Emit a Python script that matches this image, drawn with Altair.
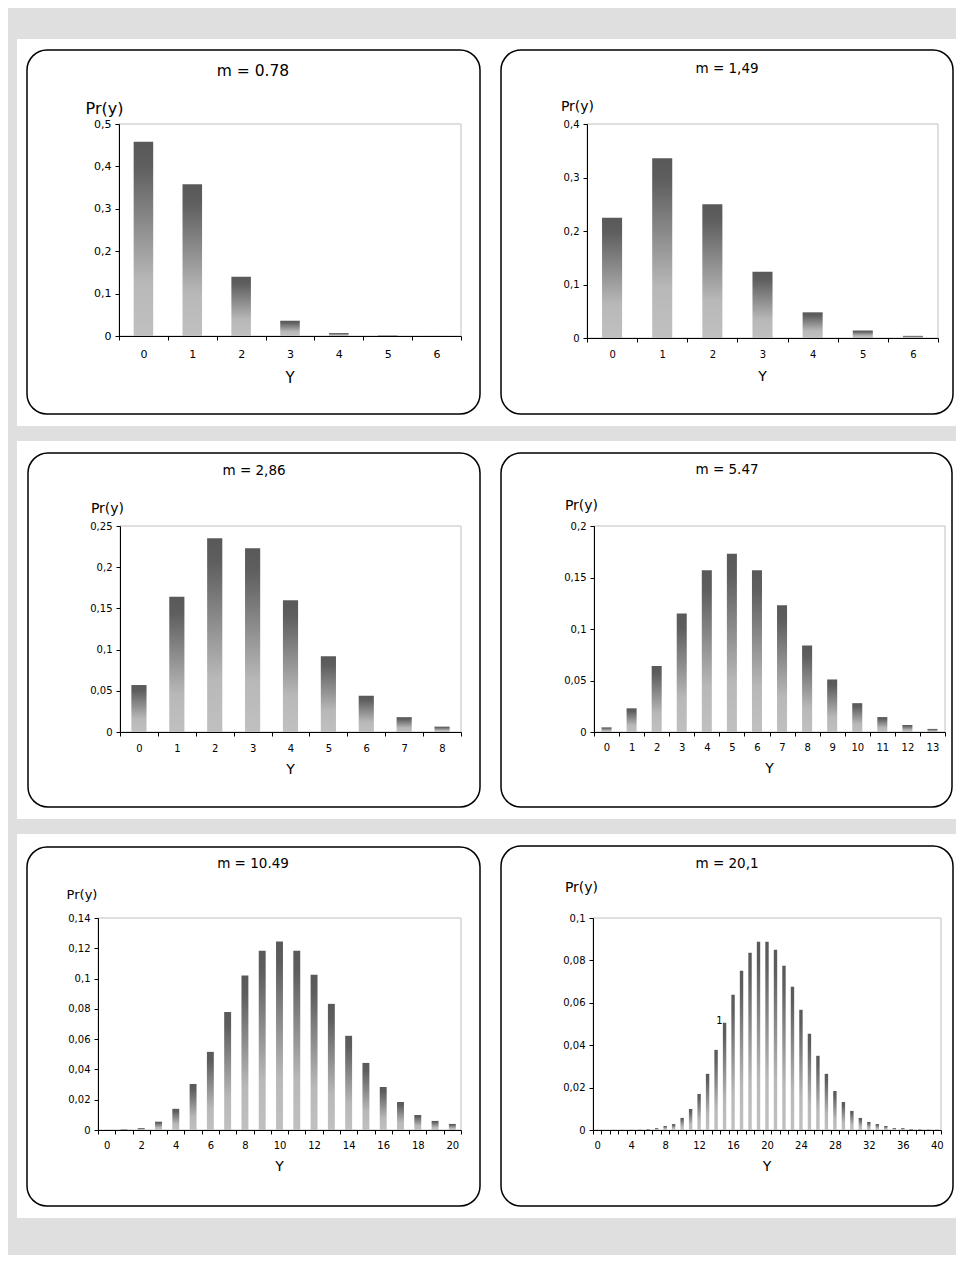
import altair as alt
import pandas as pd

FONT = "DejaVu Sans"

# ---------------- data ----------------
titles = ["m = 0.78", "m = 1,49", "m = 2,86", "m = 5.47", "m = 10.49", "m = 20,1"]

p1 = [0.458, 0.358, 0.14, 0.036, 0.007, 0.001, 0.0001]
p2 = [0.225, 0.336, 0.25, 0.124, 0.048, 0.014, 0.004]
p3 = [0.057, 0.164, 0.235, 0.223, 0.16, 0.092, 0.044, 0.018, 0.0065]
p4 = [0.0045, 0.023, 0.064, 0.115, 0.157, 0.173, 0.157, 0.123, 0.084, 0.051,
      0.028, 0.0145, 0.0068, 0.003]
p5 = [0.00003, 0.0003, 0.0013, 0.0055, 0.014, 0.0304, 0.0516, 0.078, 0.102,
      0.1184, 0.1244, 0.1184, 0.1025, 0.0833, 0.0622, 0.0443, 0.0284, 0.0185,
      0.0099, 0.006, 0.004]
p6 = [0.00001, 0.00001, 0.00001, 0.00002, 0.00005, 0.0001, 0.0003, 0.0009,
      0.0019, 0.0028, 0.0057, 0.0099, 0.017, 0.0265, 0.0378, 0.0506, 0.0638,
      0.0751, 0.0836, 0.0888, 0.0888, 0.085, 0.0775, 0.0676, 0.0567, 0.0454,
      0.035, 0.0265, 0.0184, 0.0132, 0.009, 0.0057, 0.0038, 0.0028, 0.0019,
      0.0009, 0.0009, 0.0003, 0.0002, 0.0001, 0.00005]
probs = [p1, p2, p3, p4, p5, p6]

ymax = [0.5, 0.4, 0.25, 0.2, 0.14, 0.1]
yticks = [
    [0, 0.1, 0.2, 0.3, 0.4, 0.5],
    [0, 0.1, 0.2, 0.3, 0.4],
    [0, 0.05, 0.1, 0.15, 0.2, 0.25],
    [0, 0.05, 0.1, 0.15, 0.2],
    [0, 0.02, 0.04, 0.06, 0.08, 0.1, 0.12, 0.14],
    [0, 0.02, 0.04, 0.06, 0.08, 0.1],
]
xlabel_step = [1, 1, 1, 1, 2, 4]
stray_label = {"y": [15], "p": [0.0512], "t": ["1"]}  # stray data label in last panel

# ---------------- layout (pixels, relative to each plot area) ----------------
layout = [
    dict(w=342, h=212, cell=(-102, 371, -85, 302), box=(-92, 361, -74, 290),
         title=(134, -53, 15.5), pr=(-14.5, -15, 16), yt=(42, 15), xpad=8, ls=11),
    dict(w=351, h=214, cell=(-97, 369, -85, 302), box=(-86, 366, -74, 290),
         title=(140, -55, 13.5), pr=(-9.5, -17, 14), yt=(39, 14), xpad=7, ls=10),
    dict(w=341, h=206, cell=(-103, 370, -85, 293), box=(-92, 360, -73, 281),
         title=(134, -55, 13.5), pr=(-12.5, -17, 14), yt=(38, 14), xpad=7, ls=10),
    dict(w=351, h=206, cell=(-104, 362, -85, 293), box=(-93, 358, -73, 281),
         title=(133, -56, 13.5), pr=(-12.5, -20, 14), yt=(37, 14), xpad=6, ls=10),
    dict(w=363, h=212, cell=(-81, 392, -84, 300), box=(-71, 382, -71, 288),
         title=(155, -54, 13.5), pr=(-16, -23, 13), yt=(37, 14), xpad=6, ls=10),
    dict(w=348, h=212, cell=(-103, 363, -84, 300), box=(-92, 360, -72, 288),
         title=(134, -54, 13.5), pr=(-11.5, -30, 14), yt=(37, 14), xpad=6, ls=10),
]

gradient = alt.LinearGradient(
    gradient="linear",
    stops=[
        alt.GradientStop(color="#595959", offset=0),
        alt.GradientStop(color="#5e5e5e", offset=0.12),
        alt.GradientStop(color="#b8b8b8", offset=0.72),
        alt.GradientStop(color="#c0c0c0", offset=1),
    ],
    x1=0, x2=0, y1=0, y2=1,
)

one = pd.DataFrame({"k": [0]})


def text_layer(txt, x, y, size):
    return alt.Chart(pd.DataFrame({"t": [txt]})).mark_text(
        font=FONT, fontSize=size, color="#000", align="center", baseline="middle"
    ).encode(text="t:N", x=alt.value(x), y=alt.value(y))


def panel(i):
    L = layout[i]
    w, h = L["w"], L["h"]
    df = pd.DataFrame({"y": list(range(len(probs[i]))), "p": probs[i]})

    xaxis_kw = dict(
        title=None, labelAngle=0, tickBand="extent", tickSize=4,
        labelPadding=L["xpad"], labelFontSize=L["ls"], labelColor="#000",
        labelFont=FONT, domainColor="#000", tickColor="#000", labelOverlap=False,
        grid=False, zindex=1,
    )
    if xlabel_step[i] > 1:
        xaxis_kw["labelExpr"] = f"datum.value % {xlabel_step[i]} == 0 ? datum.label : ''"
    xaxis = alt.Axis(**xaxis_kw)
    yaxis = alt.Axis(
        title=None, values=yticks[i], tickSize=4, labelPadding=4,
        labelFontSize=L["ls"], labelColor="#000", labelFont=FONT,
        labelExpr="replace(format(datum.value, '~g'), '.', ',')",
        domainColor="#000", tickColor="#000", grid=False, zindex=1,
    )

    cx1, cx2, cy1, cy2 = L["cell"]
    bx1, bx2, by1, by2 = L["box"]
    band = alt.Chart(one).mark_rect(fill="white").encode(
        x=alt.value(cx1), x2=alt.value(cx2), y=alt.value(cy1), y2=alt.value(cy2)
    )
    box = alt.Chart(one).mark_rect(
        fill="white", stroke="#000", strokeWidth=1.5, cornerRadius=20
    ).encode(x=alt.value(bx1), x2=alt.value(bx2), y=alt.value(by1), y2=alt.value(by2))

    bars = alt.Chart(df).mark_bar(width=alt.RelativeBandSize(0.4), color=gradient).encode(
        x=alt.X("y:O", scale=alt.Scale(paddingInner=0, paddingOuter=0), axis=xaxis),
        y=alt.Y("p:Q", scale=alt.Scale(domain=[0, ymax[i]], nice=False), axis=yaxis),
    )
    border = alt.Chart(one).mark_rect(fill=None, stroke="#c0c0c0", strokeWidth=1).encode(
        x=alt.value(0), x2=alt.value(w), y=alt.value(0), y2=alt.value(h)
    )
    tx, ty, ts = L["title"]
    px, py, ps = L["pr"]
    yo, ys = L["yt"]
    layers = [
        band, box, border, bars,
        text_layer(titles[i], tx, ty, ts),
        text_layer("Pr(y)", px, py, ps),
        text_layer("Y", w / 2, h + yo, ys),
    ]
    if i == 5:
        layers.append(
            alt.Chart(pd.DataFrame(stray_label)).mark_text(
                font=FONT, fontSize=10, color="#000", dx=-5, baseline="middle"
            ).encode(x="y:O", y="p:Q", text="t:N")
        )
    return alt.layer(*layers).properties(width=w, height=h)


def spacer():
    # invisible 1px view so that every row's left panel starts at the same x
    return alt.Chart(one).mark_point(opacity=0, size=0).encode(
        x=alt.value(0), y=alt.value(0)
    ).properties(width=1, height=1)


chart = alt.vconcat(
    alt.hconcat(spacer(), panel(0), panel(1), spacing=0),
    alt.hconcat(spacer(), panel(2), panel(3), spacing=0),
    alt.hconcat(spacer(), panel(4), panel(5), spacing=0),
    spacing=15,
).properties(
    padding={"left": 8, "top": 31, "right": 0, "bottom": 37},
    background="#dfdfdf",
).configure(font=FONT).configure_view(stroke=None)

chart.save("out.html", embed_options={"renderer": "svg", "actions": False})
